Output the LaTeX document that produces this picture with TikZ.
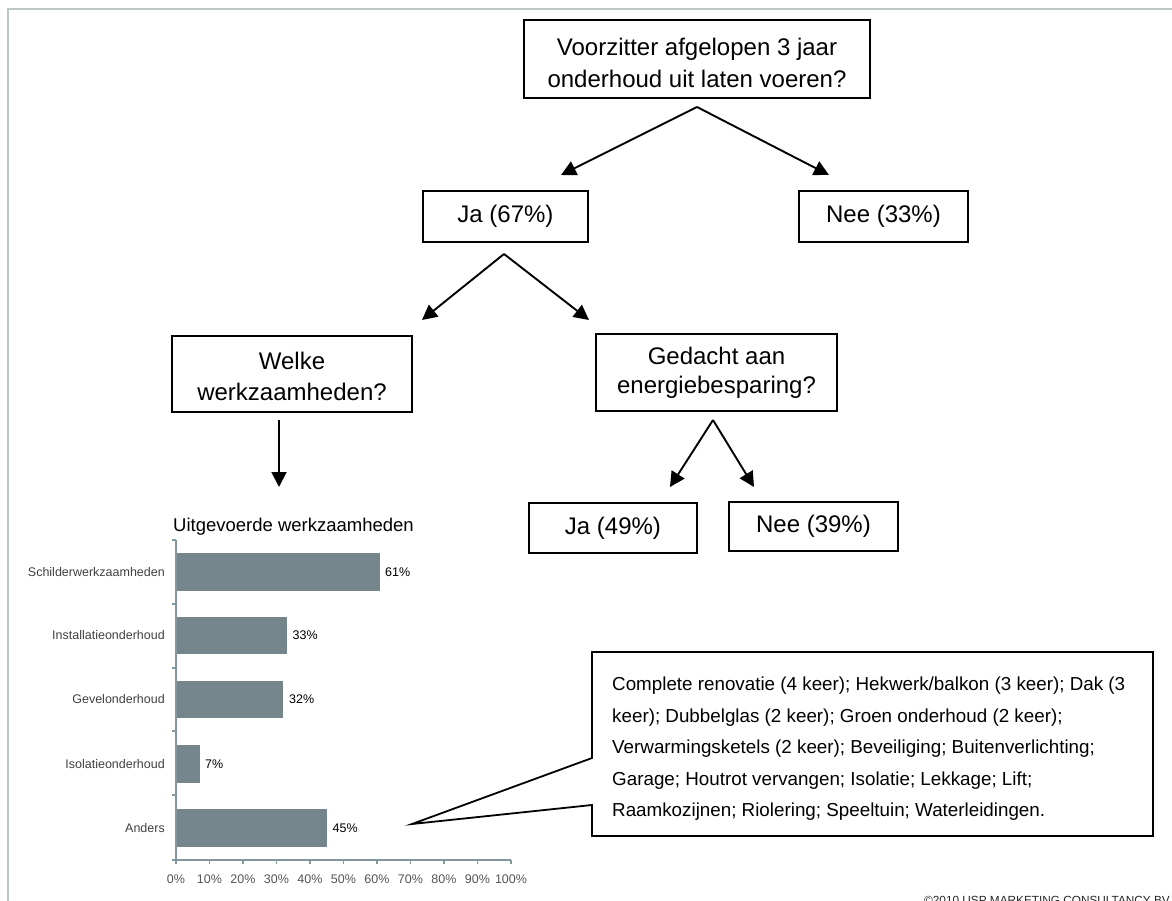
\documentclass[tikz,border=0pt]{standalone}
\usepackage{fontspec}
\setmainfont{Liberation Sans}
\usetikzlibrary{arrows.meta}
\definecolor{framecol}{HTML}{BCC6C6}
\definecolor{barcol}{HTML}{74868B}
\definecolor{axiscol}{HTML}{8296A0}
\definecolor{labcol}{HTML}{404040}
\definecolor{ticklab}{HTML}{555555}
\tikzset{
  qbox/.style={draw=black, line width=1.8pt, fill=white, inner sep=0pt, align=center,
    font=\fontsize{24}{31}\selectfont},
  qtext/.style={inner sep=0pt, align=center},
  arr/.style={line width=1.9pt, -{Triangle[length=15pt,width=15pt]}},
  bar/.style={fill=barcol, draw=none},
  axisline/.style={draw=axiscol, line width=1.2pt},
  catlab/.style={anchor=east, inner sep=0pt, text=labcol, font=\fontsize{12.5}{14}\selectfont},
  vallab/.style={anchor=west, inner sep=0pt, text=black, font=\fontsize{12.5}{14}\selectfont},
  ticklabel/.style={anchor=center, inner sep=0pt, text=ticklab, font=\fontsize{12.5}{14}\selectfont},
  calltext/.style={anchor=base west, inner sep=0pt, font=\fontsize{18.8}{22}\selectfont},
}
\begin{document}
\begin{tikzpicture}[x=1pt,y=-1pt]
\useasboundingbox (0,0) rectangle (1172,901);
% frame
\draw[framecol, line width=2pt] (8,901) -- (8,9) -- (1172,9);

% decision boxes
\node[qbox, minimum width=346pt, minimum height=78pt] (top) at (697,59) {};
\node[qtext, font=\fontsize{24}{32}\selectfont] (toptext) at (697,62.5)
  {Voorzitter afgelopen 3 jaar\\onderhoud uit laten voeren?};
\node[qbox, minimum width=165pt, minimum height=51pt] (ja67) at (505.5,216.5) {Ja (67\%)};
\node[qbox, minimum width=169pt, minimum height=51pt] (nee33) at (883.5,216.5) {Nee (33\%)};
\node[qbox, minimum width=240pt, minimum height=76pt] (welke) at (292,374) {};
\node[qtext, font=\fontsize{24}{31}\selectfont] (welketext) at (292,376)
  {Welke\\werkzaamheden?};
\node[qbox, minimum width=241pt, minimum height=77pt, font=\fontsize{24}{29}\selectfont] (gedacht) at (716.5,372.5)
  {Gedacht aan\\energiebesparing?};
\node[qbox, minimum width=168pt, minimum height=50pt] (ja49) at (613,528) {Ja (49\%)};
\node[qbox, minimum width=169pt, minimum height=49pt] (nee39) at (813.5,526.5) {Nee (39\%)};

% arrows
\coordinate (v1) at (697,107);
\coordinate (t1a) at (561,175);
\coordinate (t1b) at (829,175);
\draw[arr] (v1) -- (t1a);
\draw[arr] (v1) -- (t1b);
\coordinate (v2) at (504,254);
\coordinate (t2a) at (422,320);
\coordinate (t2b) at (589,320);
\draw[arr] (v2) -- (t2a);
\draw[arr] (v2) -- (t2b);
\coordinate (v3) at (279,420);
\coordinate (t3) at (279,487);
\draw[arr] (v3) -- (t3);
\coordinate (v4) at (713,420);
\coordinate (t4a) at (670,487);
\coordinate (t4b) at (754,487);
\draw[arr] (v4) -- (t4a);
\draw[arr] (v4) -- (t4b);

% chart
\node[anchor=west, inner sep=0pt, font=\fontsize{18.5}{22}\selectfont] (ctitle) at (173,527)
  {Uitgevoerde werkzaamheden};
% bars
\fill[bar] (176,553) rectangle (380.4,591);
\fill[bar] (176,617) rectangle (286.6,654);
\fill[bar] (176,681) rectangle (283.2,718);
\fill[bar] (176,745) rectangle (199.5,783);
\fill[bar] (176,809) rectangle (326.8,847);
% axes
\draw[axisline] (176,540) -- (176,860) -- (511,860);
\foreach \yy in {540,604,668,731,795,860} \draw[axisline] (172,\yy) -- (176,\yy);
\foreach \i in {0,...,10} {
  \draw[axisline] (176+33.5*\i,860) -- (176+33.5*\i,864);
}
\node[ticklabel] (x0) at (176,879) {0\%};
\node[ticklabel] (x1) at (209.5,879) {10\%};
\node[ticklabel] (x2) at (243,879) {20\%};
\node[ticklabel] (x3) at (276.5,879) {30\%};
\node[ticklabel] (x4) at (310,879) {40\%};
\node[ticklabel] (x5) at (343.5,879) {50\%};
\node[ticklabel] (x6) at (377,879) {60\%};
\node[ticklabel] (x7) at (410.5,879) {70\%};
\node[ticklabel] (x8) at (444,879) {80\%};
\node[ticklabel] (x9) at (477.5,879) {90\%};
\node[ticklabel] (x10) at (511,879) {100\%};
% category labels
\node[catlab] (c1) at (165,572) {Schilderwerkzaamheden};
\node[catlab] (c2) at (165,635.5) {Installatieonderhoud};
\node[catlab] (c3) at (165,699.5) {Gevelonderhoud};
\node[catlab] (c4) at (165,764) {Isolatieonderhoud};
\node[catlab] (c5) at (165,828) {Anders};
% value labels
\node[vallab] (v61) at (385,572) {61\%};
\node[vallab] (v33) at (292.5,635.5) {33\%};
\node[vallab] (v32) at (289,699.5) {32\%};
\node[vallab] (v7) at (205,764) {7\%};
\node[vallab] (v45) at (332.5,828) {45\%};

% callout
\draw[line width=1.8pt, fill=white, line join=miter]
  (592,652) -- (1153,652) -- (1153,836) -- (592,836) -- (592,805) -- (412,824) -- (592,758) -- cycle;
\node[calltext] (l1) at (612,690.5) {Complete renovatie (4 keer); Hekwerk/balkon (3 keer); Dak (3};
\node[calltext] (l2) at (612,722) {keer); Dubbelglas (2 keer); Groen onderhoud (2 keer);};
\node[calltext] (l3) at (612,753.5) {Verwarmingsketels (2 keer); Beveiliging; Buitenverlichting;};
\node[calltext] (l4) at (612,785) {Garage; Houtrot vervangen; Isolatie; Lekkage; Lift;};
\node[calltext] (l5) at (612,816.5) {Raamkozijnen; Riolering; Speeltuin; Waterleidingen.};

% copyright (clipped at bottom, as in the reference)
\begin{scope}
\clip (0,0) rectangle (1172,901);
\node[anchor=base east, inner sep=0pt, text=black!85, font=\fontsize{11.8}{13}\selectfont] (copy) at (1170,904)
  {\textcopyright2010 USP MARKETING CONSULTANCY BV};
\end{scope}
\end{tikzpicture}
\end{document}
